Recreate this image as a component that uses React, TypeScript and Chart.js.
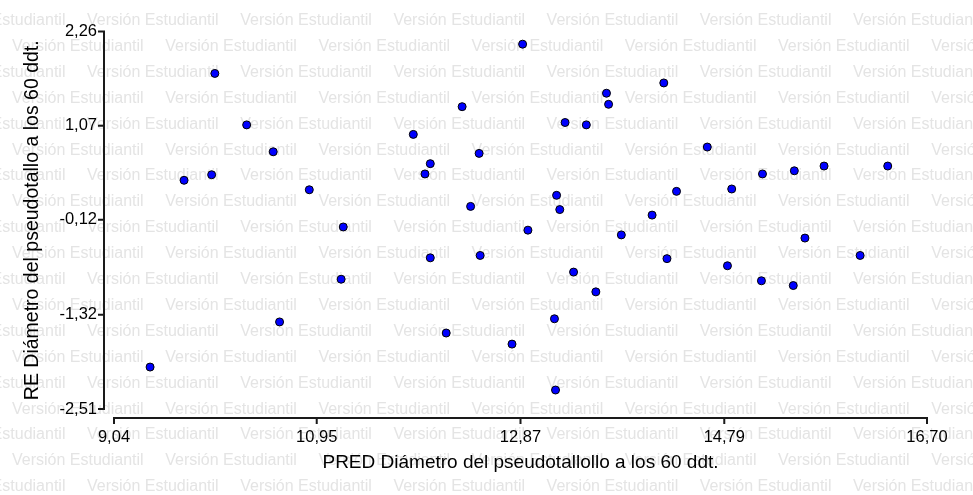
import React, { useEffect, useRef } from "react";
import { Chart, registerables } from "chart.js";

Chart.register(...registerables);

// Predicted values (x) and residuals (y)
const predValues = [
  9.38, 9.70, 9.96, 9.99, 10.29, 10.54, 10.88, 10.60, 11.20, 11.18,
  11.86, 12.02, 11.97, 12.02, 12.32, 12.48, 12.40, 12.49, 12.17, 12.89,
  12.94, 12.79, 13.21, 13.24, 13.29, 13.49, 13.68, 13.70, 13.37, 13.58,
  13.19, 13.20, 13.82, 14.11, 14.22, 14.34, 14.25, 14.63, 14.86, 14.82,
  15.15, 15.14, 15.44, 15.45, 15.55, 15.73, 16.07, 16.33,
];
const residValues = [
  -1.98, 0.38, 0.45, 1.73, 1.08, 0.74, 0.26, -1.41, -0.21, -0.87,
  0.96, 0.59, 0.46, -0.60, 1.31, 0.72, 0.05, -0.57, -1.55, 2.10,
  -0.25, -1.69, 0.19, 0.01, 1.11, 1.08, 1.48, 1.34, -0.78, -1.03,
  -1.37, -2.27, -0.31, -0.06, 1.61, 0.24, -0.61, 0.80, 0.27, -0.70,
  0.46, -0.89, -0.95, 0.50, -0.35, 0.56, -0.57, 0.56,
];
const xTickValues = [9.04, 10.95, 12.87, 14.79, 16.70];
const yTickValues = [-2.51, -1.32, -0.12, 1.07, 2.26];
const xTitle = "PRED Diámetro del pseudotallollo a los 60 ddt.";
const yTitle = "RE Diámetro del pseudotallo a los 60 ddt.";
const watermarkText = "Versión Estudiantil";

const FONT = '"Liberation Sans", Arial, sans-serif';
const fmt = (v: number) => Number(v).toFixed(2).replace(".", ",");

const watermarkPlugin = {
  id: "watermark",
  beforeDraw(chart: any) {
    const ctx = chart.ctx;
    ctx.save();
    ctx.fillStyle = "#ffffff";
    ctx.fillRect(0, 0, chart.width, chart.height);
    ctx.font = `16px ${FONT}`;
    ctx.fillStyle = "#e4e4e4";
    ctx.textBaseline = "alphabetic";
    ctx.textAlign = "left";
    const period = 153.2;
    const rowGap = 25.9;
    for (let r = -1; 25 + r * rowGap < chart.height + 20; r++) {
      const baseY = 25 + r * rowGap;
      const even = ((r % 2) + 2) % 2 === 0;
      let x = (even ? 87 : 12) - period;
      for (; x < chart.width; x += period) ctx.fillText(watermarkText, x, baseY);
    }
    ctx.restore();
  },
};

const axesPlugin = {
  id: "offsetAxes",
  afterDraw(chart: any) {
    const ctx = chart.ctx;
    const xs = chart.scales.x;
    const ys = chart.scales.y;
    const area = chart.chartArea;
    ctx.save();
    ctx.strokeStyle = "#1a1a1a";
    ctx.lineWidth = 2;
    ctx.lineCap = "butt";
    // y axis
    const ax = area.left - 10;
    const yTop = ys.getPixelForValue(ys.max);
    const yBot = ys.getPixelForValue(ys.min);
    ctx.beginPath();
    ctx.moveTo(ax, yTop - 1);
    ctx.lineTo(ax, yBot + 1);
    for (const t of ys.ticks) {
      const py = ys.getPixelForValue(t.value);
      ctx.moveTo(ax - 6, py);
      ctx.lineTo(ax + 1, py);
    }
    ctx.stroke();
    // x axis
    const ay = area.bottom + 9;
    const xL = xs.getPixelForValue(xs.min);
    const xR = xs.getPixelForValue(xs.max);
    ctx.beginPath();
    ctx.moveTo(xL - 1, ay);
    ctx.lineTo(xR + 1, ay);
    for (const t of xs.ticks) {
      const px = xs.getPixelForValue(t.value);
      ctx.moveTo(px, ay - 1);
      ctx.lineTo(px, ay + 6);
    }
    ctx.stroke();
    ctx.restore();
  },
};

export default function App() {
  const canvasRef = useRef<HTMLCanvasElement | null>(null);

  useEffect(() => {
    if (!canvasRef.current) return;
    const points = predValues.map((x, i) => ({ x, y: residValues[i] }));
    const chart = new Chart(canvasRef.current, {
      type: "scatter",
      data: {
        datasets: [
          {
            data: points,
            backgroundColor: "#0000ff",
            borderColor: "#000000",
            borderWidth: 1,
            pointRadius: 4,
          },
        ],
      },
      options: {
        responsive: false,
        animation: false,
        devicePixelRatio: 1,
        layout: { padding: { left: 0, top: 31.5, right: 46, bottom: 0 } },
        plugins: { legend: { display: false }, tooltip: { enabled: false } },
        scales: {
          x: {
            type: "linear",
            min: xTickValues[0],
            max: xTickValues[xTickValues.length - 1],
            grid: { display: false, drawTicks: false, tickLength: 0 },
            border: { display: false },
            afterBuildTicks: (s: any) => {
              s.ticks = xTickValues.map((v) => ({ value: v }));
            },
            afterFit: (s: any) => {
              s.height = 86;
            },
            ticks: {
              padding: 19,
              color: "#000",
              font: { family: FONT, size: 16.5 },
              maxRotation: 0,
              autoSkip: false,
              callback: (v: any) => fmt(v),
            },
            title: {
              display: true,
              text: xTitle,
              color: "#000",
              font: { family: FONT, size: 19 },
              padding: { top: 0, bottom: 21 },
            },
          },
          y: {
            type: "linear",
            min: yTickValues[0],
            max: yTickValues[yTickValues.length - 1],
            grid: { display: false, drawTicks: false, tickLength: 0 },
            border: { display: false },
            afterBuildTicks: (s: any) => {
              s.ticks = yTickValues.map((v) => ({ value: v }));
            },
            afterFit: (s: any) => {
              s.width = 114;
            },
            ticks: {
              padding: 17,
              color: "#000",
              font: { family: FONT, size: 16.5 },
              autoSkip: false,
              callback: (v: any) => fmt(v),
            },
            title: {
              display: true,
              text: yTitle,
              color: "#000",
              font: { family: FONT, size: 19.5 },
              padding: { top: 21, bottom: 0 },
            },
          },
        },
      },
      plugins: [watermarkPlugin, axesPlugin],
    });
    return () => chart.destroy();
  }, []);

  return (
    <div style={{ position: "fixed", left: 0, top: 0, width: 973, height: 495, background: "#fff" }}>
      <canvas ref={canvasRef} width={973} height={495} style={{ display: "block" }} />
    </div>
  );
}
